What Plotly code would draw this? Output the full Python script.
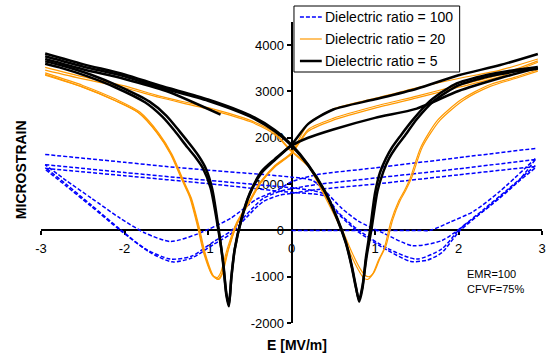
import plotly.graph_objects as go

# ---------------- data ----------------
# Dielectric ratio = 100 (blue, dashed)
blu_init_E = [0, 0.5, 1.0, 1.5, 1.66, 1.9, 2.18, 2.5, 2.92]
blu_init_S = [0, 0, 0, 0, 0, 180, 410, 850, 1550]
blu_a_dec_E = [2.92, 2.0, 1.0, 0.3, 0.0, -0.18, -0.42, -0.73, -1.13, -1.45, -1.75, -2.05, -2.4, -2.7, -2.95]
blu_a_dec_S = [1770, 1570, 1350, 1200, 1050, 860, 670, 260, -80, -240, -60, 260, 700, 1080, 1420]
blu_a_inc_E = [-2.95, -2.0, -1.5, -1.0, -0.5, 0.0, 0.25, 0.4, 0.6, 0.8, 1.1, 1.45, 1.8, 2.1, 2.4, 2.7, 2.92]
blu_a_inc_S = [1640, 1470, 1380, 1300, 1230, 1150, 1080, 850, 480, 200, -60, -330, -220, 150, 560, 1030, 1530]
blu_b_dec_E = [2.92, 2.0, 1.0, 0.3, 0.0, -0.14, -0.34, -0.54, -0.73, -0.93, -1.2, -1.45, -1.75, -2.05, -2.4, -2.7, -2.95]
blu_b_dec_S = [1530, 1330, 1130, 990, 900, 840, 690, 340, -20, -240, -560, -620, -400, 20, 550, 1000, 1360]
blu_b_inc_E = [-2.95, -2.0, -1.0, 0.0, 0.25, 0.4, 0.55, 0.79, 1.15, 1.5, 1.8, 2.01, 2.3, 2.6, 2.92]
blu_b_inc_S = [1420, 1250, 1080, 920, 860, 780, 410, 20, -390, -620, -400, 20, 450, 900, 1400]
blu_c_dec_E = [2.92, 2.0, 1.0, 0.3, 0.0, -0.14, -0.34, -0.54, -0.73, -0.93, -1.2, -1.43, -1.7, -2.05, -2.4, -2.7, -2.95]
blu_c_dec_S = [1380, 1200, 1000, 880, 800, 760, 620, 280, -80, -300, -600, -680, -470, 0, 520, 960, 1320]
blu_c_inc_E = [-2.95, -2.0, -1.0, 0.0, 0.25, 0.4, 0.55, 0.79, 1.15, 1.43, 1.63, 1.8, 2.01, 2.3, 2.6, 2.92]
blu_c_inc_S = [1340, 1180, 1010, 820, 790, 740, 380, -20, -430, -670, -640, -480, -20, 420, 880, 1350]

# Dielectric ratio = 20 (orange)
org_inc1_E = [-2.95, -2.5, -2.0, -1.58, -1.0, -0.5, -0.2, 0.0, 0.2, 0.35, 0.55, 0.71, 0.8, 0.86, 0.91, 0.97, 1.04, 1.11, 1.19, 1.28, 1.35, 1.42, 1.55, 1.75, 2.03, 2.35, 2.66, 2.95]
org_inc1_S = [3520, 3320, 3120, 2900, 2650, 2380, 2100, 1720, 1400, 900, 190, -520, -850, -1020, -1060, -950, -650, -390, 190, 620, 850, 1120, 1800, 2380, 2820, 3130, 3300, 3470]
org_inc2_E = [-2.95, -2.5, -2.0, -1.58, -1.0, -0.5, -0.2, 0.0, 0.2, 0.37, 0.57, 0.73, 0.82, 0.88, 0.93, 0.99, 1.06, 1.13, 1.21, 1.3, 1.37, 1.44, 1.57, 1.78, 2.06, 2.38, 2.68, 2.95]
org_inc2_S = [3460, 3270, 3080, 2870, 2620, 2350, 2070, 1700, 1380, 880, 170, -500, -820, -970, -1000, -900, -600, -340, 220, 640, 870, 1140, 1810, 2380, 2810, 3110, 3280, 3440]
org_dec1_E = [2.95, 2.5, 2.0, 1.5, 1.0, 0.5, 0.2, 0.0, -0.2, -0.36, -0.5, -0.64, -0.75, -0.83, -0.87, -0.93, -1.03, -1.11, -1.2, -1.29, -1.43, -1.59, -1.82, -2.1, -2.5, -2.95]
org_dec1_S = [3700, 3460, 3280, 3080, 2850, 2620, 2300, 1680, 1400, 1060, 620, 190, -390, -950, -1060, -1000, -520, 100, 700, 1060, 1640, 2100, 2560, 2830, 3130, 3400]
org_dec2_E = [2.95, 2.5, 2.0, 1.5, 1.0, 0.5, 0.2, 0.0, -0.2, -0.38, -0.52, -0.66, -0.77, -0.85, -0.89, -0.95, -1.05, -1.13, -1.22, -1.31, -1.45, -1.61, -1.84, -2.12, -2.52, -2.95]
org_dec2_S = [3660, 3360, 3130, 2900, 2680, 2420, 2180, 1660, 1380, 1030, 590, 160, -400, -920, -1020, -960, -500, 120, 720, 1080, 1650, 2100, 2550, 2810, 3110, 3370]
org_dec3_E = [2.95, 2.5, 2.0, 1.5, 1.0, 0.5, 0.2, 0.0, -0.2, -0.37, -0.51, -0.65, -0.76, -0.84, -0.88, -0.94, -1.04, -1.12, -1.21, -1.3, -1.44, -1.6, -1.83, -2.11, -2.51, -2.95]
org_dec3_S = [3630, 3320, 3090, 2860, 2640, 2380, 2140, 1650, 1370, 1020, 580, 150, -420, -960, -1050, -990, -510, 110, 710, 1070, 1640, 2090, 2540, 2800, 3100, 3350]

# Dielectric ratio = 5 (black)
blk_inc1_E = [-2.95, -2.5, -2.0, -1.58, -1.0, -0.5, -0.2, 0.0, 0.2, 0.4, 0.55, 0.65, 0.72, 0.77, 0.81, 0.85, 0.89, 0.94, 1.0, 1.06, 1.13, 1.2, 1.3, 1.45, 1.65, 1.95, 2.35, 2.7, 2.95]
blk_inc1_S = [3820, 3590, 3370, 3130, 2830, 2490, 2170, 1850, 1420, 850, 250, -250, -750, -1200, -1540, -1250, -600, 0, 800, 1250, 1550, 1780, 2030, 2380, 2780, 3150, 3360, 3470, 3530]
blk_inc2_E = [-2.95, -2.5, -2.0, -1.58, -1.0, -0.5, -0.2, 0.0, 0.2, 0.4, 0.55, 0.65, 0.72, 0.77, 0.81, 0.85, 0.9, 0.96, 1.03, 1.1, 1.17, 1.25, 1.36, 1.5, 1.7, 2.0, 2.4, 2.72, 2.95]
blk_inc2_S = [3760, 3540, 3330, 3090, 2800, 2460, 2140, 1830, 1400, 830, 230, -270, -780, -1230, -1500, -1200, -560, 50, 850, 1270, 1560, 1790, 2050, 2400, 2790, 3130, 3340, 3440, 3490]
blk_dec1_E = [2.95, 2.5, 2.0, 1.5, 1.0, 0.5, 0.2, 0.0, -0.2, -0.36, -0.5, -0.6, -0.68, -0.72, -0.75, -0.78, -0.82, -0.87, -0.95, -1.03, -1.11, -1.2, -1.35, -1.5, -1.7, -2.05, -2.4, -2.75, -2.95]
blk_dec1_S = [3810, 3570, 3350, 3060, 2830, 2610, 2300, 1850, 1540, 1270, 800, 250, -400, -1000, -1640, -1400, -700, 0, 900, 1350, 1600, 1820, 2160, 2480, 2780, 3100, 3360, 3560, 3650]
blk_dec2_E = [2.95, 2.5, 2.0, 1.5, 1.0, 0.5, 0.2, 0.0, -0.2, -0.36, -0.5, -0.6, -0.68, -0.72, -0.75, -0.78, -0.82, -0.88, -0.97, -1.06, -1.15, -1.25, -1.4, -1.55, -1.75, -2.1, -2.45, -2.78, -2.95]
blk_dec2_S = [3510, 3290, 3010, 2630, 2430, 2180, 2000, 1830, 1520, 1240, 780, 230, -420, -1020, -1600, -1360, -660, 50, 920, 1340, 1580, 1800, 2150, 2460, 2760, 3080, 3330, 3520, 3600]
blk_part_E = [-2.95, -2.5, -2.0, -1.5, -0.85]
blk_part_S = [3700, 3480, 3270, 3010, 2500]

legend_labels = ["Dielectric ratio = 100", "Dielectric ratio = 20", "Dielectric ratio = 5"]
x_ticks = [-3, -2, -1, 0, 1, 2, 3]
y_ticks = [-2000, -1000, 0, 1000, 2000, 3000, 4000]

# ---------------- figure ----------------
BLUE, ORANGE, BLACK = "#0000FF", "#FF9900", "#000000"
fig = go.Figure()

def add(E, S, color, width, dash="solid"):
    fig.add_trace(go.Scatter(x=E, y=S, mode="lines", showlegend=False, hoverinfo="skip",
                             line=dict(color=color, width=width, dash=dash,
                                       shape="spline", smoothing=0.7)))

blue_dash = "4px,2px"
for E, S in [(blu_init_E, blu_init_S), (blu_a_dec_E, blu_a_dec_S), (blu_a_inc_E, blu_a_inc_S),
             (blu_b_dec_E, blu_b_dec_S), (blu_b_inc_E, blu_b_inc_S),
             (blu_c_dec_E, blu_c_dec_S), (blu_c_inc_E, blu_c_inc_S)]:
    add(E, S, BLUE, 1.5, blue_dash)
for E, S in [(org_inc1_E, org_inc1_S), (org_inc2_E, org_inc2_S), (org_dec1_E, org_dec1_S),
             (org_dec2_E, org_dec2_S), (org_dec3_E, org_dec3_S)]:
    add(E, S, ORANGE, 1.2)
for E, S in [(blk_inc1_E, blk_inc1_S), (blk_inc2_E, blk_inc2_S), (blk_dec1_E, blk_dec1_S),
             (blk_dec2_E, blk_dec2_S), (blk_part_E, blk_part_S)]:
    add(E, S, BLACK, 2.5)

W, H = 554, 357
ML, MR, MT, MB = 41, 8, 22, 34
PW, PH = W - ML - MR, H - MT - MB
def px(x):
    return (x - ML) / PW
def py(y):
    return (H - MB - y) / PH

YMIN, YMAX = -2000, 4500
FONT = "Arial, Liberation Sans, sans-serif"

fig.update_layout(
    width=W, height=H, margin=dict(l=ML, r=MR, t=MT, b=MB),
    paper_bgcolor="white", plot_bgcolor="white", showlegend=False,
    font=dict(family=FONT, color="black", size=13),
    xaxis=dict(range=[-3, 3], tickvals=x_ticks, ticktext=[str(v) for v in x_ticks],
               showline=True, linecolor="black", linewidth=2, ticks="outside", ticklen=4,
               tickwidth=1.5, tickcolor="black", showgrid=False, zeroline=False,
               anchor="free", position=(0 - YMIN) / (YMAX - YMIN), layer="below traces",
               ticklabelstandoff=2, tickfont=dict(size=13, family=FONT)),
    yaxis=dict(range=[YMIN, YMAX], tickvals=y_ticks, ticktext=[str(v) for v in y_ticks],
               showline=True, linecolor="black", linewidth=2, ticks="outside", ticklen=4,
               tickwidth=1.5, tickcolor="black", showgrid=False, zeroline=False,
               anchor="free", position=0.5, layer="below traces",
               tickfont=dict(size=13, family=FONT)),
)

# axis titles
fig.add_annotation(text="<b>E [MV/m]</b>", xref="paper", yref="paper", x=px(299), y=py(345),
                   showarrow=False, font=dict(size=14, family=FONT), xanchor="center", yanchor="middle")
fig.add_annotation(text="<b>MICROSTRAIN</b>", xref="paper", yref="paper", x=px(21), y=py(170),
                   showarrow=False, textangle=-90, font=dict(size=14, family=FONT),
                   xanchor="center", yanchor="middle")
# notes
fig.add_annotation(text="EMR=100", xref="paper", yref="paper", x=px(468), y=py(274),
                   showarrow=False, font=dict(size=11, family=FONT), xanchor="left", yanchor="middle")
fig.add_annotation(text="CFVF=75%", xref="paper", yref="paper", x=px(468), y=py(289),
                   showarrow=False, font=dict(size=11, family=FONT), xanchor="left", yanchor="middle")

# legend box
fig.add_shape(type="rect", xref="paper", yref="paper", x0=px(296), x1=px(463), y0=py(72), y1=py(6),
              line=dict(color="black", width=1), fillcolor="white", layer="above")
rows = [17, 39, 61]
styles = [(BLUE, 1.5, blue_dash), (ORANGE, 1.2, "solid"), (BLACK, 2.5, "solid")]
for lab, r, (c, w, d) in zip(legend_labels, rows, styles):
    fig.add_shape(type="line", xref="paper", yref="paper", x0=px(302), x1=px(324), y0=py(r), y1=py(r),
                  line=dict(color=c, width=w, dash=d), layer="above")
    fig.add_annotation(text=lab, xref="paper", yref="paper", x=px(325), y=py(r), showarrow=False,
                       font=dict(size=14, family=FONT), xanchor="left", yanchor="middle")

fig.write_html("out.html")
